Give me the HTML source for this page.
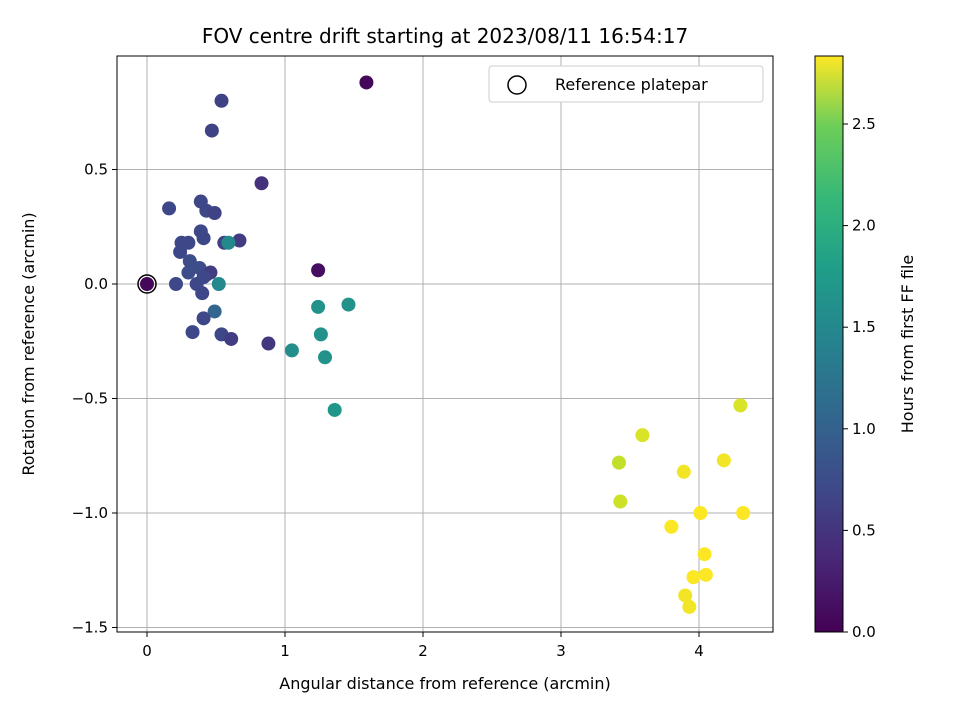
<!DOCTYPE html>
<html><head><meta charset="utf-8"><style>
body{margin:0;background:#fff;}
svg text{font-family:"DejaVu Sans","Liberation Sans",sans-serif;fill:#000;}
</style></head><body>
<svg id="c" width="960" height="720" viewBox="0 0 960 720" xmlns="http://www.w3.org/2000/svg">
<defs>
<linearGradient id="vir" x1="0" y1="1" x2="0" y2="0">
<stop offset="0" stop-color="#440154"/><stop offset="0.13" stop-color="#482878"/><stop offset="0.25" stop-color="#3e4989"/><stop offset="0.38" stop-color="#31688e"/><stop offset="0.5" stop-color="#26828e"/><stop offset="0.63" stop-color="#1f9e89"/><stop offset="0.75" stop-color="#35b779"/><stop offset="0.88" stop-color="#6ece58"/><stop offset="1" stop-color="#fde725"/>
</linearGradient>
</defs>
<text x="445" y="43" font-size="20" text-anchor="middle">FOV centre drift starting at 2023/08/11 16:54:17</text>
<g id="grid"></g>
<g id="pts"></g>
<rect x="117" y="56" width="656" height="576" fill="none" stroke="#000" stroke-width="1"/>
<g id="ticks"></g>
<text x="445" y="689" font-size="16" text-anchor="middle">Angular distance from reference (arcmin)</text>
<text transform="translate(34,344) rotate(-90)" font-size="16" text-anchor="middle">Rotation from reference (arcmin)</text>
<g>
<rect x="489" y="66" width="274" height="36" rx="3" fill="#fff" stroke="#ccc"/>
<circle cx="517" cy="85" r="9" fill="none" stroke="#000" stroke-width="1.5"/>
<text x="555" y="90" font-size="16">Reference platepar</text>
</g>
<rect x="815" y="56" width="28" height="576" fill="url(#vir)" stroke="#000"/>
<g id="cbt"></g>
<text transform="translate(913,344) rotate(-90)" font-size="16" text-anchor="middle">Hours from first FF file</text>
</svg>
<script>
const xs=[1.59,0.54,0.47,0.83,0.16,0.39,0.43,0.49,0.67,0.56,0.59,0.39,0.41,0.25,0.30,0.24,1.24,0,0.21,0.31,0.30,0.38,0.43,0.46,0.36,0.41,0.52,0.40,1.24,1.46,0.49,0.41,1.26,0.33,0.54,0.61,0.88,1.05,1.29,1.36,4.30,3.59,3.42,3.89,4.18,3.43,3.80,4.01,4.32,4.04,3.96,4.05,3.90,3.93];
const ys=[0.88,0.80,0.67,0.44,0.33,0.36,0.32,0.31,0.19,0.18,0.18,0.23,0.20,0.18,0.18,0.14,0.06,0,0,0.10,0.05,0.07,0.04,0.05,0,0.03,0,-0.04,-0.10,-0.09,-0.12,-0.15,-0.22,-0.21,-0.22,-0.24,-0.26,-0.29,-0.32,-0.55,-0.53,-0.66,-0.78,-0.82,-0.77,-0.95,-1.06,-1.00,-1.00,-1.18,-1.28,-1.27,-1.36,-1.41];
const hours=[0.05,0.55,0.55,0.4,0.6,0.6,0.6,0.55,0.5,0.55,1.3,0.6,0.6,0.6,0.6,0.6,0.1,0.05,0.6,0.65,0.65,0.65,0.65,0.5,0.6,0.6,1.3,0.6,1.4,1.4,0.9,0.6,1.4,0.6,0.6,0.5,0.45,1.35,1.4,1.45,2.6,2.6,2.5,2.7,2.7,2.55,2.75,2.75,2.8,2.8,2.75,2.8,2.7,2.7];
const xTicks=[0,1,2,3,4];
const yTicks=[0.5,0,-0.5,-1.0,-1.5];
const cTicks=[0,0.5,1.0,1.5,2.0,2.5];
const hMax=2.835;
const X=v=>147+v*138, Y=v=>284-v*229, C=v=>632-v*203.2;
const NS="http://www.w3.org/2000/svg";
function mk(t,a,p){const e=document.createElementNS(NS,t);for(const k in a)e.setAttribute(k,a[k]);p.appendChild(e);return e;}
const V=[[68,1,84],[72,40,120],[62,73,137],[49,104,142],[38,130,142],[31,158,137],[53,183,121],[110,206,88],[181,222,43],[253,231,37]];
function vir(t){t=Math.max(0,Math.min(1,t))*(V.length-1);const i=Math.min(Math.floor(t),V.length-2),f=t-i;const c=V[i].map((v,k)=>Math.round(v+(V[i+1][k]-v)*f));return `rgb(${c})`;}
const g=document.getElementById('grid'),tk=document.getElementById('ticks'),pts=document.getElementById('pts'),cb=document.getElementById('cbt');
xTicks.forEach(v=>{
const l=mk('line',{x1:X(v),x2:X(v),y1:56,y2:632,stroke:'#b0b0b0','stroke-width':1},g);


mk('line',{x1:X(v),x2:X(v),y1:632,y2:637,stroke:'#000'},tk);
const t=mk('text',{x:X(v),y:656,'font-size':15,'text-anchor':'middle'},tk);t.textContent=v;


});
yTicks.forEach(v=>{
const l=mk('line',{x1:117,x2:773,y1:Y(v),y2:Y(v),stroke:'#b0b0b0','stroke-width':1},g);


mk('line',{x1:112,x2:117,y1:Y(v),y2:Y(v),stroke:'#000'},tk);
const t=mk('text',{x:108,y:Y(v)+5,'font-size':15,'text-anchor':'end'},tk);t.textContent=v===0?'0.0':(v<0?'\u2212'+Math.abs(v).toFixed(1):v.toFixed(1));


});
cTicks.forEach(v=>{
mk('line',{x1:843,x2:848,y1:C(v),y2:C(v),stroke:'#000'},cb);
const t=mk('text',{x:852,y:C(v)+5,'font-size':15},cb);t.textContent=v.toFixed(1);


});
xs.forEach((x,i)=>{
const c=mk('circle',{cx:X(x),cy:Y(ys[i]),r:7,fill:vir(Math.min(1,hours[i]/hMax*1.03))},pts);


});
const r=mk('circle',{cx:X(0),cy:Y(0),r:9,fill:'none',stroke:'#000','stroke-width':1.5},pts);


</script>
</body></html>
